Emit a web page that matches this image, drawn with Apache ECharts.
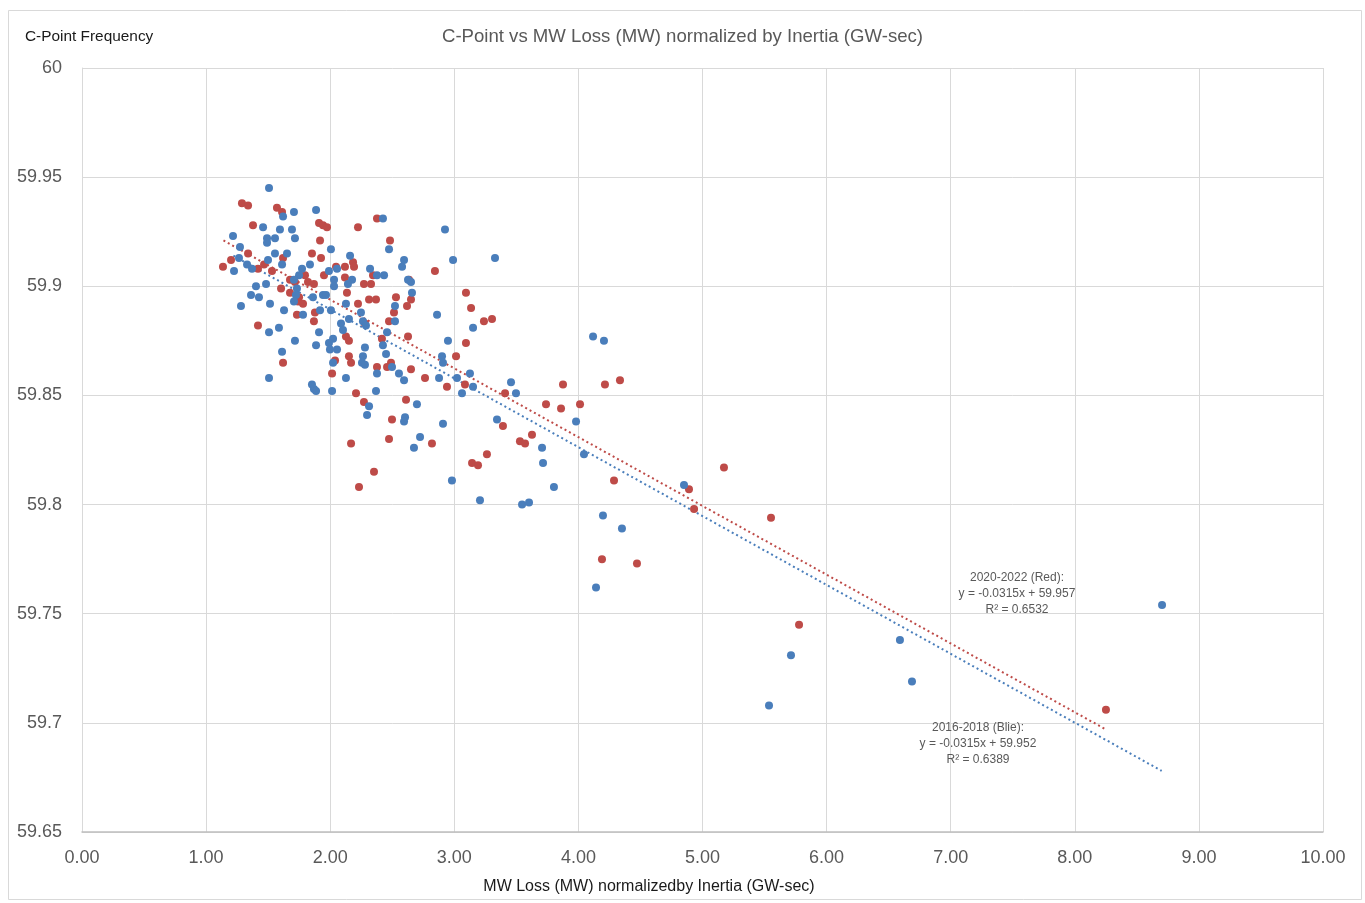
<!DOCTYPE html>
<html>
<head>
<meta charset="utf-8">
<script src="https://cdn.jsdelivr.net/npm/echarts@6/dist/echarts.min.js"></script>
<style>html,body{margin:0;padding:0;background:#fff}#c{width:1365px;height:903px}</style>
</head>
<body>
<div id="c"></div>
<script>
// 2016-2018 (Blue) points: [MW loss / inertia, C-point frequency]
var blue2016 = [
[1.507,59.945],[1.620,59.932],[1.708,59.934],[1.886,59.935],[1.459,59.927],[1.595,59.926],[1.692,59.926],
[1.716,59.922],[1.491,59.922],[1.491,59.920],[1.555,59.922],[1.217,59.923],[1.273,59.918],[1.265,59.913],
[1.555,59.915],[1.652,59.915],[1.499,59.912],[1.612,59.910],[1.330,59.910],[1.370,59.908],[1.225,59.907],
[1.837,59.910],[1.773,59.908],[2.006,59.917],[2.160,59.914],[1.990,59.907],[2.055,59.908],[2.031,59.903],
[2.031,59.900],[2.176,59.903],[2.143,59.901],[1.749,59.905],[1.708,59.903],[1.402,59.900],[1.483,59.901],
[1.362,59.896],[1.426,59.895],[1.732,59.899],[1.724,59.896],[1.861,59.895],[1.942,59.896],[1.966,59.896],
[1.281,59.891],[1.515,59.892],[1.628,59.889],[1.708,59.893],[1.781,59.887],[1.918,59.889],[2.006,59.889],
[2.127,59.892],[2.151,59.885],[2.087,59.883],[2.103,59.880],[1.910,59.879],[2.023,59.876],[1.990,59.874],
[1.998,59.871],[2.055,59.871],[1.886,59.873],[1.716,59.875],[1.587,59.881],[1.507,59.879],[1.612,59.870],
[1.507,59.858],[1.853,59.855],[1.869,59.853],[1.886,59.852],[2.015,59.852],[2.023,59.865],[2.127,59.858],
[2.425,59.931],[2.925,59.926],[2.474,59.917],[2.990,59.912],[3.328,59.913],[2.595,59.912],[2.579,59.909],
[2.321,59.908],[2.377,59.905],[2.434,59.905],[2.627,59.903],[2.651,59.902],[2.659,59.897],[2.522,59.891],
[2.248,59.888],[2.264,59.884],[2.522,59.884],[2.288,59.882],[2.861,59.887],[3.151,59.881],[2.458,59.879],
[2.425,59.873],[2.280,59.872],[2.949,59.875],[2.450,59.869],[2.264,59.868],[2.256,59.865],[2.280,59.864],
[2.901,59.868],[2.909,59.865],[2.498,59.863],[2.377,59.860],[2.554,59.860],[2.595,59.857],[2.877,59.858],
[3.022,59.858],[3.126,59.860],[3.151,59.854],[3.062,59.851],[2.369,59.852],[2.313,59.845],[2.297,59.841],
[2.699,59.846],[2.603,59.840],[3.344,59.839],[2.595,59.838],[2.909,59.837],[2.724,59.831],[2.675,59.826],
[2.981,59.811],[3.207,59.802],[4.206,59.875],[4.118,59.877],[3.457,59.856],[3.497,59.851],[3.981,59.838],
[3.707,59.826],[3.715,59.819],[3.803,59.808],[4.045,59.823],[3.546,59.800],[3.602,59.801],[4.198,59.795],
[4.351,59.789],[4.142,59.762],[4.851,59.809],[5.713,59.731],[5.536,59.708],[6.591,59.738],[6.688,59.719],
[8.703,59.754]
];
// 2020-2022 (Red) points
var red2020 = [
[1.289,59.938],[1.338,59.937],[1.378,59.928],[1.571,59.936],[1.612,59.934],[1.910,59.929],[1.942,59.928],
[1.974,59.927],[1.918,59.921],[1.853,59.915],[1.926,59.913],[1.620,59.913],[1.338,59.915],[1.201,59.912],
[1.136,59.909],[1.418,59.908],[1.467,59.910],[1.531,59.907],[2.047,59.909],[2.119,59.909],[2.184,59.911],
[2.192,59.909],[2.224,59.927],[2.119,59.904],[1.950,59.905],[1.797,59.905],[1.676,59.903],[1.716,59.902],
[1.821,59.902],[1.869,59.901],[1.604,59.899],[1.676,59.897],[1.749,59.895],[1.741,59.893],[1.781,59.892],
[1.732,59.887],[1.877,59.888],[1.869,59.884],[1.418,59.882],[1.620,59.865],[2.039,59.866],[2.127,59.877],
[2.151,59.875],[2.151,59.868],[2.168,59.865],[2.015,59.860],[2.208,59.851],[2.135,59.897],[2.224,59.892],
[2.377,59.931],[2.482,59.921],[2.345,59.905],[2.635,59.903],[2.844,59.907],[2.272,59.901],[2.329,59.901],
[2.530,59.895],[2.651,59.894],[2.313,59.894],[2.369,59.894],[3.094,59.897],[2.619,59.891],[3.135,59.890],
[2.514,59.888],[2.474,59.884],[2.280,59.883],[3.239,59.884],[3.304,59.885],[2.417,59.876],[2.627,59.877],
[3.094,59.874],[2.490,59.865],[2.458,59.863],[2.377,59.863],[2.651,59.862],[3.014,59.868],[2.764,59.858],
[2.941,59.854],[3.086,59.855],[2.611,59.848],[2.272,59.847],[2.498,59.839],[2.474,59.830],[2.168,59.828],
[2.820,59.828],[2.353,59.815],[2.232,59.808],[3.263,59.823],[3.143,59.819],[3.191,59.818],[3.409,59.851],
[3.876,59.855],[4.214,59.855],[4.335,59.857],[3.739,59.846],[3.860,59.844],[4.013,59.846],[3.392,59.836],
[3.626,59.832],[3.529,59.829],[3.570,59.828],[4.287,59.811],[4.190,59.775],[4.472,59.773],[5.173,59.817],
[4.891,59.807],[4.932,59.798],[5.552,59.794],[5.778,59.745],[8.251,59.706]
];
// Trendline end points as drawn in the picture
var redTrend = [[1.14,59.921],[8.25,59.697]];
var blueTrend = [[1.22,59.914],[8.70,59.678]];

var titleText = 'C-Point vs MW Loss (MW) normalized by Inertia (GW-sec)';
var yName = 'C-Point Frequency';
var xName = 'MW Loss (MW) normalizedby Inertia (GW-sec)';
var redLabel = ['2020-2022 (Red):', 'y = -0.0315x + 59.957', 'R\u00B2 = 0.6532'];
var blueLabel = ['2016-2018 (Blie):', 'y = -0.0315x + 59.952', 'R\u00B2 = 0.6389'];

var FONT = 'Liberation Sans, Arial, sans-serif';
var BLUE = '#4a7ebb', RED = '#be4b48';
var chart = echarts.init(document.getElementById('c'), null, {renderer:'canvas'});
chart.setOption({
  backgroundColor:'#fff',
  animation:false,
  textStyle:{fontFamily:FONT},
  title:{text:titleText,left:'center',top:22,textStyle:{fontFamily:FONT,fontSize:18.6,fontWeight:'normal',color:'#595959'}},
  grid:{left:82,right:42,top:68,bottom:71,containLabel:false},
  xAxis:{type:'value',min:0,max:10,interval:1,
    axisLine:{show:true,lineStyle:{color:'#bfbfbf',width:1.5}},
    axisTick:{show:false},
    axisLabel:{color:'#595959',fontSize:18,margin:17,formatter:function(v){return v.toFixed(2);}},
    splitLine:{show:true,lineStyle:{color:'#d9d9d9',width:1}}},
  yAxis:{type:'value',min:59.65,max:60,interval:0.05,
    axisLine:{show:true,lineStyle:{color:'#d9d9d9'}},
    axisTick:{show:false},
    axisLabel:{color:'#595959',fontSize:18,margin:20,formatter:function(v){return String(parseFloat(v.toFixed(2)));}},
    splitLine:{show:true,lineStyle:{color:'#d9d9d9',width:1}}},
  graphic:[
    {type:'rect',shape:{x:8.5,y:10.5,width:1353,height:889},style:{fill:null,stroke:'#d9d9d9',lineWidth:1},silent:true,z:-1},
    {type:'text',left:25,top:29,z:100,style:{text:yName,fontFamily:FONT,fontSize:15.4,fill:'#1a1a1a'}},
    {type:'text',x:649,y:879,z:100,style:{text:xName,fontFamily:FONT,fontSize:16,fill:'#1a1a1a',align:'center'}},
    {type:'text',x:1017,y:570,z:100,style:{text:redLabel.join('\n'),fontFamily:FONT,fontSize:12,lineHeight:16,fill:'#595959',align:'center'}},
    {type:'text',x:978,y:720,z:100,style:{text:blueLabel.join('\n'),fontFamily:FONT,fontSize:12,lineHeight:16,fill:'#595959',align:'center'}}
  ],
  series:[
    {type:'line',data:redTrend,showSymbol:false,symbol:'none',lineStyle:{color:RED,width:2,type:[2,3]},z:1},
    {type:'line',data:blueTrend,showSymbol:false,symbol:'none',lineStyle:{color:BLUE,width:2,type:[2,3]},z:1},
    {type:'scatter',data:red2020,symbolSize:8,itemStyle:{color:RED,opacity:1},z:2},
    {type:'scatter',data:blue2016,symbolSize:8,itemStyle:{color:BLUE,opacity:1},z:3}
  ]
});
</script>
</body>
</html>
